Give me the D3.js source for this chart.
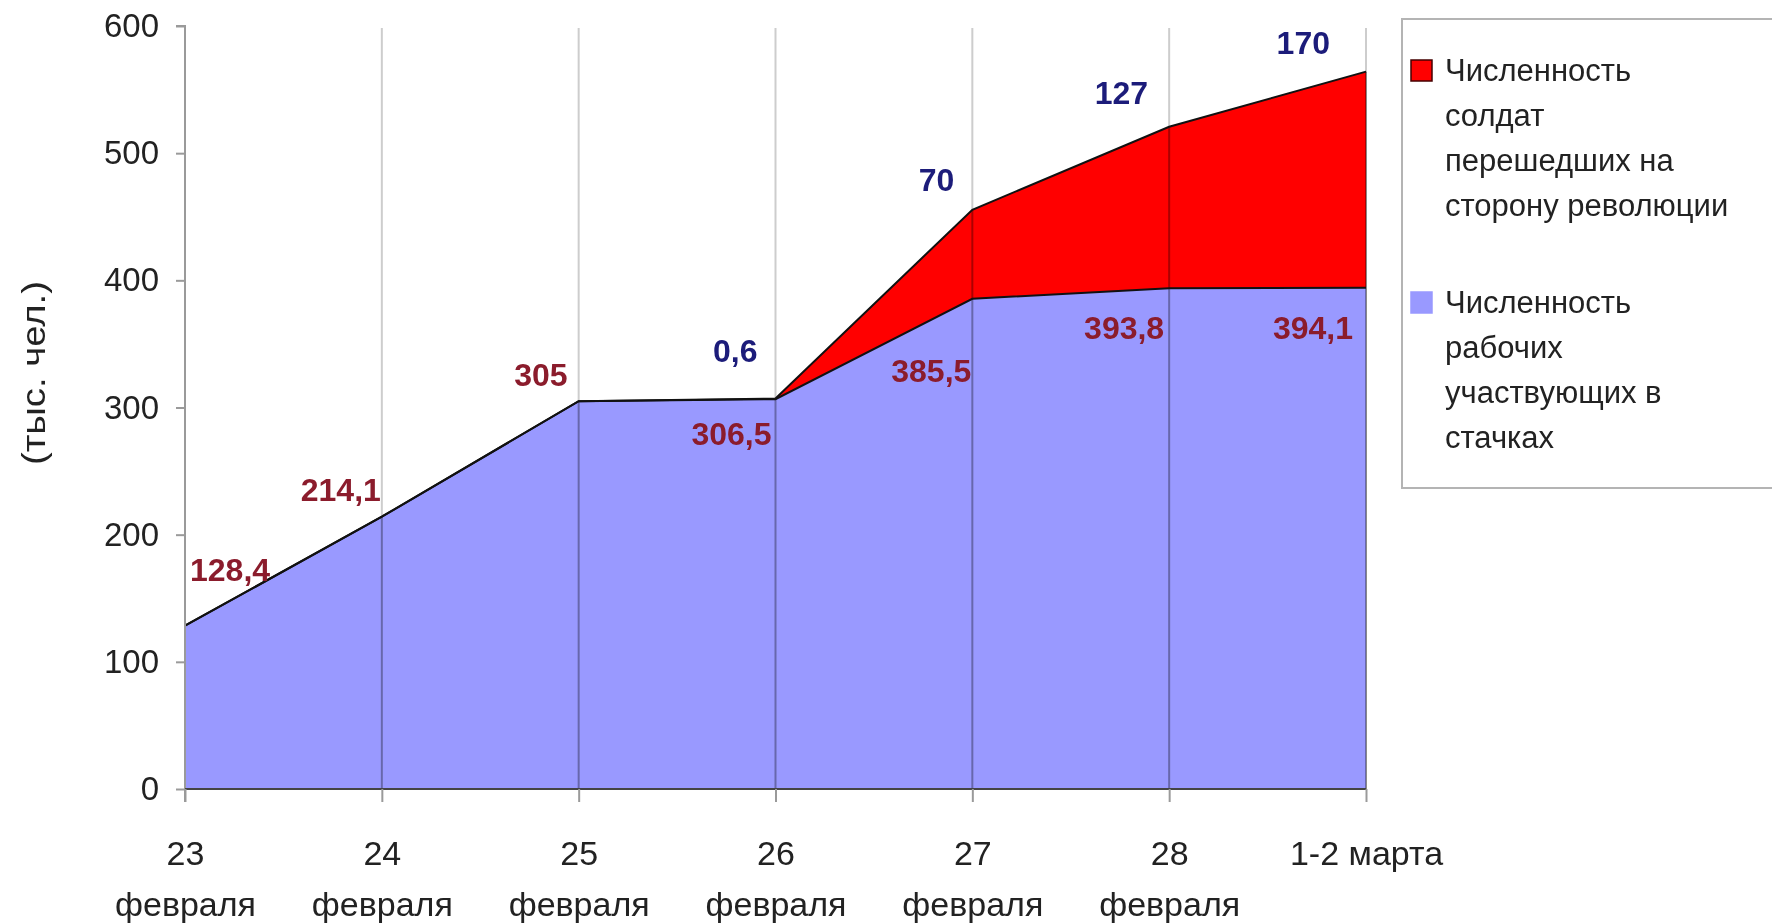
<!DOCTYPE html>
<html>
<head>
<meta charset="utf-8">
<script src="https://cdn.jsdelivr.net/npm/d3@7"></script>
<style>
  html, body { margin: 0; padding: 0; background: #fff; }
  svg { display: block; font-family: "Liberation Sans", Arial, sans-serif; }
  .grid line { mix-blend-mode: multiply; }
</style>
</head>
<body>
<div id="chart"></div>
<script>
// categories (x axis, two lines each)
var days = ["23", "24", "25", "26", "27", "28", "1-2 марта"];
var months = ["февраля", "февраля", "февраля", "февраля", "февраля", "февраля", ""];

// series values, thousand people
var workers = [128.4, 214.1, 305, 306.5, 385.5, 393.8, 394.1];
var soldiers = [0, 0, 0, 0.6, 70, 127, 170];

// printed labels (null = none)
var workerLabels = ["128,4", "214,1", "305", "306,5", "385,5", "393,8", "394,1"];
var soldierLabels = [null, null, null, "0,6", "70", "127", "170"];

var yTicks = [0, 100, 200, 300, 400, 500, 600];

var seriesNames = {
  soldiers: ["Численность", "солдат", "перешедших на", "сторону революции"],
  workers: ["Численность", "рабочих", "участвующих в", "стачках"]
};

// label nudges relative to the stacked point (hand placed in the original)
var workerNudge = [[5, -45, "start"], [-1, -16, "end"], [-11, -15, "end"], [-4, 46, "end"],
                   [-1, 83, "end"], [-5, 51, "end"], [-13, 51, "end"]];
var soldierNudge = [null, null, null, [-18, -36, "end"], [-18, -19, "end"], [-21, -23, "end"], [-36, -18, "end"]];

var W = 1772, H = 924;
var svg = d3.select("#chart").append("svg").attr("width", W).attr("height", H);

var x = d3.scalePoint().domain(d3.range(days.length)).range([185, 1366]);
var y = d3.scaleLinear().domain([0, 600]).range([789, 26]);

var rows = workers.map(function(w, i) { return { workers: w, soldiers: soldiers[i] }; });
var stack = d3.stack().keys(["workers", "soldiers"]);
var layers = stack(rows);

var area = d3.area()
  .x(function(d, i) { return x(i); })
  .y0(function(d) { return y(d[0]); })
  .y1(function(d) { return y(d[1]); });

var topLine = d3.line()
  .x(function(d, i) { return x(i); })
  .y(function(d) { return y(d[1]); });

var colors = { workers: "#9999ff", soldiers: "#ff0000" };

// light gridlines behind
svg.append("g").selectAll("line")
  .data(d3.range(1, days.length))
  .join("line")
  .attr("x1", function(i) { return x(i); }).attr("x2", function(i) { return x(i); })
  .attr("y1", 28).attr("y2", 789)
  .attr("stroke", "#cdcdcd").attr("stroke-width", 2);

// areas
svg.append("g").selectAll("path")
  .data(layers)
  .join("path")
  .attr("d", area)
  .attr("fill", function(d) { return colors[d.key]; });

// gridlines over the areas
svg.append("g").attr("class", "grid").selectAll("line")
  .data(d3.range(1, days.length))
  .join("line")
  .attr("x1", function(i) { return x(i); }).attr("x2", function(i) { return x(i); })
  .attr("y1", function(i) { return y(layers[1][i][1]); }).attr("y2", 789)
  .attr("stroke", "#acacac").attr("stroke-width", 2);

// outlines
svg.append("g").selectAll("path")
  .data(layers)
  .join("path")
  .attr("d", topLine)
  .attr("fill", "none")
  .attr("stroke", "#111")
  .attr("stroke-width", 2);

// y axis
var yAxis = svg.append("g")
  .attr("transform", "translate(" + x(0) + ",0)")
  .call(d3.axisLeft(y).tickValues(yTicks).tickSize(9).tickPadding(17).tickFormat(d3.format("d")));
yAxis.select(".domain").attr("stroke", "#9a9a9a").attr("stroke-width", 2)
  .attr("d", "M-9," + y(600) + "H0V" + (y(0) + 13));
yAxis.selectAll(".tick line").attr("stroke", "#9a9a9a").attr("stroke-width", 2);
yAxis.selectAll(".tick text").attr("font-size", 33).attr("fill", "#222").attr("font-family", "Liberation Sans, Arial");

// x axis
var xAxis = svg.append("g")
  .attr("transform", "translate(0," + y(0) + ")")
  .call(d3.axisBottom(x).tickSize(13).tickFormat(""));
xAxis.select(".domain").attr("stroke", "#444").attr("stroke-width", 2).attr("d", "M" + x(0) + ",0H" + x(days.length - 1));
xAxis.selectAll(".tick line").attr("stroke", "#9a9a9a").attr("stroke-width", 2);
xAxis.selectAll(".tick").each(function(i) {
  var t = d3.select(this).append("text")
    .attr("text-anchor", "middle")
    .attr("font-size", 34)
    .attr("fill", "#222");
  t.append("tspan").attr("x", 0).attr("y", 76).text(days[i]);
  if (months[i]) t.append("tspan").attr("x", 0).attr("y", 127).text(months[i]);
});

// y title
svg.append("text")
  .attr("transform", "translate(45,373) rotate(-90)")
  .attr("text-anchor", "middle")
  .attr("font-size", 33)
  .attr("textLength", 184)
  .attr("lengthAdjust", "spacingAndGlyphs")
  .attr("fill", "#222")
  .text("(тыс. чел.)");

// data labels
function drawLabels(layer, labels, nudge, color) {
  svg.append("g").selectAll("text")
    .data(labels.map(function(l, i) { return { l: l, i: i }; }).filter(function(d) { return d.l; }))
    .join("text")
    .attr("x", function(d) { return x(d.i) + nudge[d.i][0]; })
    .attr("y", function(d) { return y(layer[d.i][1]) + nudge[d.i][1]; })
    .attr("text-anchor", function(d) { return nudge[d.i][2]; })
    .attr("font-size", 32)
    .attr("font-weight", "bold")
    .attr("fill", color)
    .text(function(d) { return d.l; });
}
drawLabels(layers[0], workerLabels, workerNudge, "#8b1c2c");
drawLabels(layers[1], soldierLabels, soldierNudge, "#1c1c7a");

// legend
var lg = svg.append("g");
lg.append("rect").attr("x", 1402).attr("y", 19).attr("width", 400).attr("height", 469)
  .attr("fill", "#fff").attr("stroke", "#b4b4b4").attr("stroke-width", 2);

var legendItems = [
  { key: "soldiers", top: 60, stroke: "#400" },
  { key: "workers", top: 292, stroke: "#9999ff" }
];
legendItems.forEach(function(it) {
  lg.append("rect").attr("x", 1411).attr("y", it.top).attr("width", 21).attr("height", 21)
    .attr("fill", colors[it.key]).attr("stroke", it.stroke).attr("stroke-width", 1.5);
  var t = lg.append("text").attr("font-size", 31).attr("fill", "#222");
  seriesNames[it.key].forEach(function(line, k) {
    t.append("tspan").attr("x", 1445).attr("y", it.top + 21 + k * 45).text(line);
  });
});
</script>
</body>
</html>
